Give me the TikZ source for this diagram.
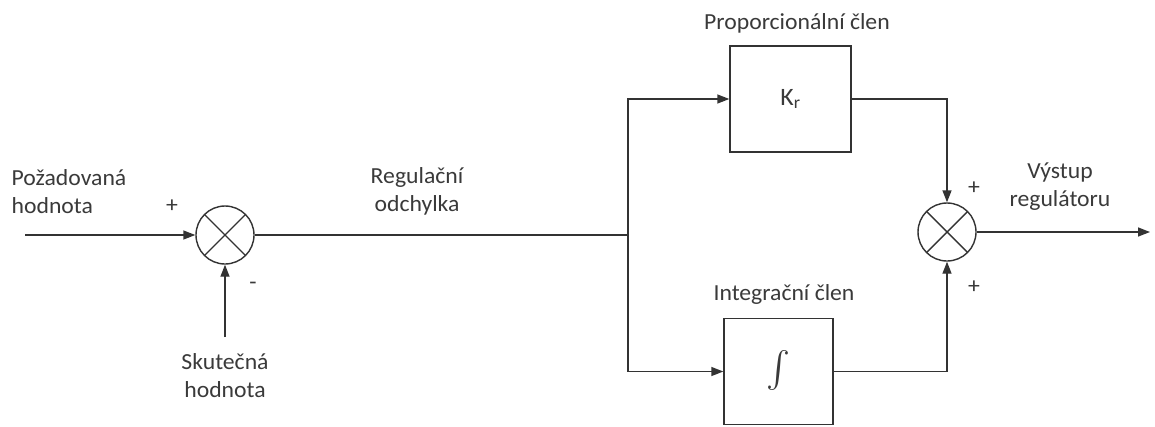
\documentclass[tikz,border=0pt]{standalone}
\usepackage{fontspec}
\setmainfont{Carlito}[FakeStretch=1.03]
\usetikzlibrary{arrows.meta}
\definecolor{ink}{HTML}{333333}
\definecolor{txt}{HTML}{3A3A3A}
\begin{document}
\begin{tikzpicture}[x=1pt,y=1pt,
  line width=1.4pt,
  every node/.style={text=txt,font=\fontsize{23}{28}\selectfont},
  conn/.style={draw=ink,line width=1.4pt},
  arr/.style={conn,-{Triangle[length=12pt,width=9pt]}},
  sumnode/.style={circle,draw=ink,line width=1.4pt,minimum size=58pt,inner sep=0pt,
    path picture={\draw[ink,line width=1.4pt] (path picture bounding box.north west) -- (path picture bounding box.south east)
      (path picture bounding box.north east) -- (path picture bounding box.south west);}},
  blockbox/.style={rectangle,draw=ink,line width=1.4pt,inner sep=0pt},
  lbl/.style={align=center,inner sep=0pt}
]
\useasboundingbox (0,0) rectangle (1155,-426);
\fill[white] (0,0) rectangle (1155,-426);

\node[sumnode] (sum1) at (225,-235) {};
\node[sumnode] (sum2) at (947,-232) {};
\node[blockbox,minimum width=121pt,minimum height=106pt] (kr) at (790.5,-99) {\fontsize{25}{28}\selectfont K\textsubscript{r}};
\node[blockbox,minimum width=109pt,minimum height=106pt] (int) at (778.5,-371.5) {\scalebox{3.6}{$\int$}};

\coordinate (in) at (25,-235);
\coordinate (fb) at (225,-337);
\coordinate (br) at (628,-235);
\coordinate (out) at (1150,-232);

\draw[arr] (in) -- (sum1.west);
\draw[arr] (fb) -- (sum1.south);
\draw[conn] (sum1.east) -- (br);
\draw[arr] (br) |- (kr.west);
\draw[arr] (br) |- (int.west);
\draw[arr] (kr.east) -| (sum2.north);
\draw[arr] (int.east) -| (sum2.south);
\draw[arr] (sum2.east) -- (out);

\node[lbl,align=left,anchor=west] (ref) at (11,-192) {Požadovaná\\hodnota};
\node[lbl] (p1) at (172,-206) {+};
\node[lbl] (m1) at (253,-286) {-};
\node[lbl] (act) at (225,-376) {Skutečná\\hodnota};
\node[lbl] (err) at (417,-191) {Regulační\\odchylka};
\node[lbl] (krl) at (797,-23) {Proporcionální člen};
\node[lbl] (intl) at (784,-294) {Integrační člen};
\node[lbl] (p2) at (974,-188) {+};
\node[lbl] (p3) at (974,-287) {+};
\node[lbl] (outl) at (1060,-187) {Výstup\\regulátoru};
\end{tikzpicture}
\end{document}
